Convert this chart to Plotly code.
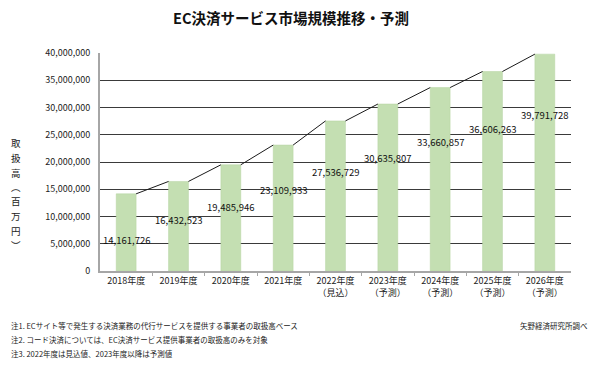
import plotly.graph_objects as go

# ---- data ----
years = ["2018年度", "2019年度", "2020年度", "2021年度", "2022年度",
         "2023年度", "2024年度", "2025年度", "2026年度"]
sub_labels = ["", "", "", "", "（見込）", "（予測）", "（予測）", "（予測）", "（予測）"]
values = [14161726, 16432523, 19485946, 23109933, 27536729,
          30635807, 33660857, 36606263, 39791728]
# vertical position of each data label (in axis units)
label_y = [5.69e6, 9.36e6, 11.74e6, 14.86e6, 18.17e6,
           20.73e6, 23.67e6, 26.06e6, 28.62e6]
y_ticks = [0, 5000000, 10000000, 15000000, 20000000,
           25000000, 30000000, 35000000, 40000000]
notes = [
    "注1. ECサイト等で発生する決済業務の代行サービスを提供する事業者の取扱高ベース",
    "注2. コード決済については、EC決済サービス提供事業者の取扱高のみを対象",
    "注3. 2022年度は見込値、2023年度以降は予測値",
]
source = "矢野経済研究所調べ"
title = "EC決済サービス市場規模推移・予測"
y_title_chars = ["取", "扱", "高", "︵", "百", "万", "円", "︶"]

FONT = "Noto Sans CJK JP"
bar_w = 0.38
n = len(values)
xs = list(range(n))

# page offset (browser body margin) compensation
OFF = 8
PL, PR, PT, PB = 100, 571, 53, 271  # plot area in page pixels


def px(xp):
    return (xp - PL) / (PR - PL)


def py(yp):
    return (PB - yp) / (PB - PT)


fig = go.Figure()
fig.add_trace(go.Bar(
    x=xs, y=values, width=bar_w,
    marker=dict(color="#c4dfb2", line=dict(color="#b5d3a0", width=0.5)),
    hoverinfo="skip",
))

# series lines connecting bar tops
lx, ly = [], []
for i in range(n - 1):
    lx += [xs[i] + bar_w / 2, xs[i + 1] - bar_w / 2, None]
    ly += [values[i], values[i + 1], None]
fig.add_trace(go.Scatter(x=lx, y=ly, mode="lines",
                         line=dict(color="#1a1a1a", width=1), hoverinfo="skip"))

# data labels
for i in range(n):
    fig.add_annotation(x=xs[i], y=label_y[i], text=f"{values[i]:,}",
                       showarrow=False, xref="x", yref="y",
                       font=dict(family=FONT, size=9.5, color="#111"))

ticktext = [y if s == "" else f"{y}<br>{s}" for y, s in zip(years, sub_labels)]

W, H = 600 - OFF, 368 - OFF
fig.update_layout(
    width=W, height=H,
    margin=dict(l=PL - OFF, r=W - (PR - OFF), t=PT - OFF, b=H - (PB - OFF)),
    paper_bgcolor="white", plot_bgcolor="white",
    showlegend=False,
    title=dict(text=f"<b>{title}</b>", x=(291 - OFF) / W, xanchor="center",
               y=1 - (19 - OFF) / H, yanchor="middle",
               font=dict(family=FONT, size=14.5, color="#111")),
    xaxis=dict(
        range=[-0.5, n - 0.5], tickvals=xs, ticktext=ticktext,
        showgrid=False, zeroline=False, showline=True, linecolor="#a6a6a6", linewidth=2,
        ticks="", tickfont=dict(family=FONT, size=9, color="#222"),
        minor=dict(tickvals=[i + 0.5 for i in range(n - 1)], ticks="outside",
                   ticklen=3, tickcolor="#a6a6a6", showgrid=False),
        fixedrange=True,
    ),
    yaxis=dict(
        range=[0, 40000000], tickvals=y_ticks, tickformat=",d",
        showgrid=True, gridcolor="#3a3a3a", gridwidth=1,
        zeroline=False, showline=True, linecolor="#a6a6a6", linewidth=2,
        ticks="", tickfont=dict(family=FONT, size=9, color="#222"),
        ticklabelstandoff=6,
        fixedrange=True,
    ),
)

# vertical axis title, one character per annotation
y_title_pos = [143, 158, 173, 187, 201, 216, 231, 245]
for ch, yp in zip(y_title_chars, y_title_pos):
    fig.add_annotation(text=ch, xref="paper", yref="paper",
                       x=px(16), y=py(yp),
                       xanchor="center", yanchor="middle", showarrow=False,
                       font=dict(family=FONT, size=9.5, color="#222"))

for k, t in enumerate(notes):
    fig.add_annotation(text=t, xref="paper", yref="paper",
                       x=px(OFF + 1), y=py(325 + 14 * k),
                       xanchor="left", yanchor="middle", showarrow=False,
                       font=dict(family=FONT, size=7.5, color="#222"))
fig.add_annotation(text=source, xref="paper", yref="paper",
                   x=px(590), y=py(325),
                   xanchor="right", yanchor="middle", showarrow=False,
                   font=dict(family=FONT, size=7.5, color="#222"))

fig.write_html("out.html")
